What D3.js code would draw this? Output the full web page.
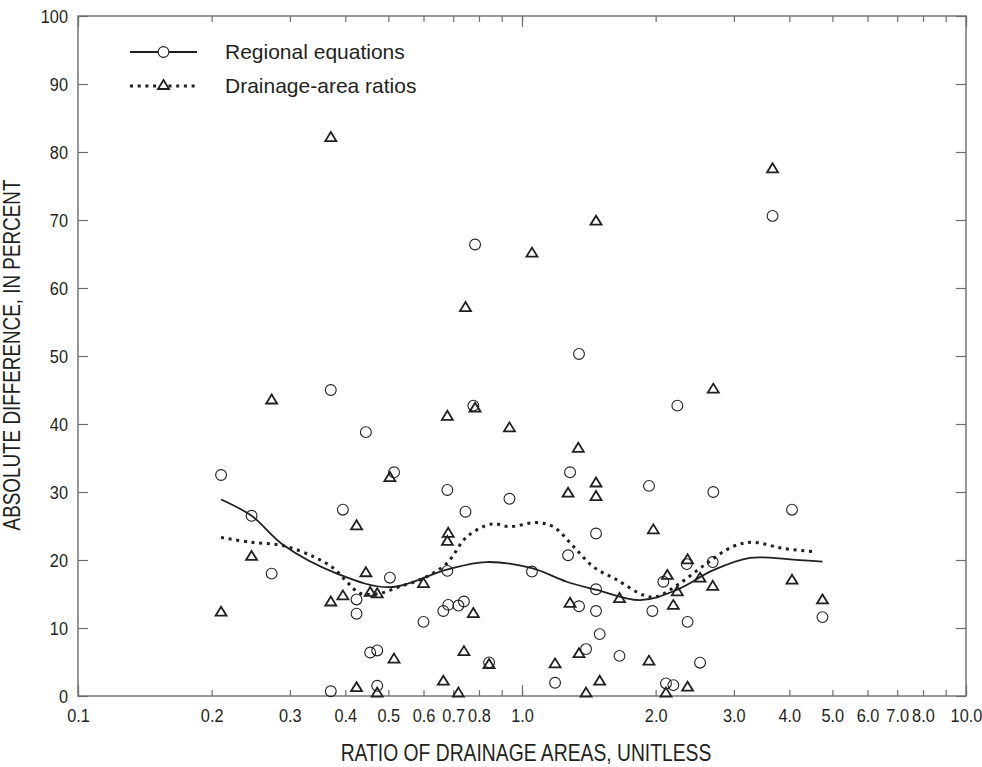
<!DOCTYPE html>
<html lang="en">
<head>
<meta charset="utf-8">
<title>Absolute difference vs ratio of drainage areas</title>
<script src="https://d3js.org/d3.v7.min.js"></script>
<style>
  body { margin: 0; background: #fff; }
  text { font-family: "Liberation Sans", Arial, sans-serif; fill: #231f20; }
</style>
</head>
<body>
<script>
// ratio of drainage areas for each site (same x for both methods)
var ratios = [0.21, 0.246, 0.273, 0.371, 0.371, 0.395, 0.424, 0.424, 0.445, 0.455,
              0.472, 0.472, 0.504, 0.515, 0.60, 0.665, 0.679, 0.679, 0.682, 0.719,
              0.740, 0.746, 0.777, 0.784, 0.843, 0.937, 1.053, 1.187, 1.27, 1.283,
              1.344, 1.344, 1.394, 1.468, 1.468, 1.468, 1.496, 1.658, 1.932, 1.966,
              2.081, 2.11, 2.192, 2.238, 2.35, 2.36, 2.518, 2.697, 2.689, 3.667,
              4.056, 4.751];
var regionalDiff = [32.5, 26.5, 18.0, 45.0, 0.7, 27.4, 14.2, 12.1, 38.8, 6.4,
                    6.7, 1.5, 17.4, 32.9, 10.9, 12.5, 30.3, 18.4, 13.4, 13.3,
                    13.9, 27.1, 42.7, 66.4, 4.95, 29.0, 18.3, 1.95, 20.7, 32.9,
                    50.3, 13.2, 6.9, 23.9, 15.7, 12.5, 9.1, 5.9, 30.9, 12.5,
                    16.8, 1.85, 1.6, 42.7, 19.4, 10.9, 4.9, 30.0, 19.7, 70.6,
                    27.4, 11.6];
var ratioRatios = [0.21, 0.246, 0.273, 0.371, 0.371, 0.395, 0.424, 0.424, 0.445, 0.455,
                   0.472, 0.472, 0.504, 0.515, 0.60, 0.665, 0.679, 0.682, 0.679, 0.719,
                   0.740, 0.746, 0.777, 0.784, 0.843, 0.937, 1.053, 1.187, 1.27, 1.283,
                   1.339, 1.344, 1.394, 1.468, 1.468, 1.468, 1.496, 1.658, 1.932, 1.976,
                   2.11, 2.125, 2.192, 2.238, 2.36, 2.36, 2.518, 2.689, 2.697, 3.667,
                   4.056, 4.751];
var drainageDiff = [12.4, 20.6, 43.6, 82.2, 13.9, 14.8, 25.1, 1.3, 18.2, 15.3,
                    15.1, 0.5, 32.2, 5.5, 16.6, 2.25, 41.2, 24.0, 22.8, 0.5,
                    6.6, 57.2, 12.2, 42.4, 4.7, 39.5, 65.2, 4.8, 29.9, 13.7,
                    36.5, 6.3, 0.5, 69.9, 31.4, 29.4, 2.25, 14.4, 5.2, 24.5,
                    0.5, 17.8, 13.4, 15.4, 20.1, 1.37, 17.4, 16.2, 45.2, 77.6,
                    17.1, 14.2];

// smoothed curves
var regionalCurveX = [0.21, 0.246, 0.29, 0.383, 0.504, 0.677, 0.83, 1.053, 1.261, 1.474,
                      1.845, 2.231, 2.697, 3.263, 4.014, 4.75];
var regionalCurveY = [28.9, 26.5, 22.2, 18.0, 16.0, 18.6, 19.7, 18.8, 16.8, 15.6,
                      14.1, 15.6, 18.5, 20.3, 20.1, 19.75];
var drainageCurveX = [0.21, 0.246, 0.29, 0.339, 0.376, 0.403, 0.432, 0.479, 0.531, 0.599,
                      0.677, 0.751, 0.855, 0.937, 1.079, 1.176, 1.305, 1.447, 1.634, 1.876,
                      2.011, 2.269, 2.606, 2.991, 3.319, 3.877, 4.6];
var drainageCurveY = [23.3, 22.6, 22.1, 20.5, 18.8, 16.8, 15.1, 15.1, 16.1, 17.3,
                      19.5, 23.4, 25.3, 24.9, 25.5, 24.9, 22.0, 19.0, 17.1, 14.85,
                      14.6, 16.6, 19.5, 22.0, 22.6, 21.7, 21.2];

var xTicks = [0.1, 0.2, 0.3, 0.4, 0.5, 0.6, 0.7, 0.8, 0.9, 1, 2, 3, 4, 5, 6, 7, 8, 9, 10];
var xMajor = [0.1, 1, 10];
var xLabels = [0.1, 0.2, 0.3, 0.4, 0.5, 0.6, 0.7, 0.8, 1, 2, 3, 4, 5, 6, 7, 8, 10];
var yTicks = [0, 10, 20, 30, 40, 50, 60, 70, 80, 90, 100];

var w = 982, h = 767;
var pLeft = 78, pRight = 966, pTop = 16, pBottom = 696;
var axisColor = "#6d6e71", ink = "#231f20";
var narrow = 0.86; // horizontal squeeze to mimic a condensed face

var x = d3.scaleLog().domain([0.1, 10]).range([pLeft, pRight]);
var y = d3.scaleLinear().domain([0, 100]).range([pBottom, pTop]);

var svg = d3.select("body").append("svg")
    .attr("width", w)
    .attr("height", h);

function strip(g) {
  g.select(".domain").remove();
  g.selectAll(".tick line").attr("stroke", axisColor).attr("stroke-width", 1.2);
}

// tick marks, all pointing inward
svg.append("g").attr("transform", "translate(0," + pBottom + ")")
   .call(d3.axisBottom(x).tickValues(xTicks).tickSize(-6).tickFormat("")).call(strip);
svg.append("g").attr("transform", "translate(0," + pBottom + ")")
   .call(d3.axisBottom(x).tickValues(xMajor).tickSize(-11).tickFormat("")).call(strip);
svg.append("g").attr("transform", "translate(0," + pTop + ")")
   .call(d3.axisTop(x).tickValues(xTicks).tickSize(-6).tickFormat("")).call(strip);
svg.append("g").attr("transform", "translate(0," + pTop + ")")
   .call(d3.axisTop(x).tickValues(xMajor).tickSize(-11).tickFormat("")).call(strip);
svg.append("g").attr("transform", "translate(" + pLeft + ",0)")
   .call(d3.axisLeft(y).tickValues(yTicks).tickSize(-10).tickFormat("")).call(strip);
svg.append("g").attr("transform", "translate(" + pRight + ",0)")
   .call(d3.axisRight(y).tickValues(yTicks).tickSize(-10).tickFormat("")).call(strip);

// tick labels
var xl = svg.append("g").attr("transform", "translate(0," + pBottom + ")")
   .call(d3.axisBottom(x).tickValues(xLabels).tickSize(0).tickPadding(13).tickFormat(d3.format(".1f")));
xl.select(".domain").remove();
xl.selectAll("text").style("font-size", "19px").attr("fill", ink)
   .attr("transform", "scale(" + narrow + ",1)");

var yl = svg.append("g").attr("transform", "translate(" + pLeft + ",0)")
   .call(d3.axisLeft(y).tickValues(yTicks).tickSize(0).tickPadding(10).tickFormat(d3.format("d")));
yl.select(".domain").remove();
yl.selectAll("text").style("font-size", "19px").attr("fill", ink)
   .attr("x", -10 / narrow)
   .attr("transform", "scale(" + narrow + ",1)");

// frame
svg.append("rect")
   .attr("x", pLeft).attr("y", pTop)
   .attr("width", pRight - pLeft).attr("height", pBottom - pTop)
   .attr("fill", "none").attr("stroke", axisColor).attr("stroke-width", 1.4);

// axis titles
svg.append("text")
   .attr("transform", "translate(526,761) scale(0.84,1)")
   .attr("text-anchor", "middle")
   .style("font-size", "23px")
   .text("RATIO OF DRAINAGE AREAS, UNITLESS");

svg.append("text")
   .attr("transform", "translate(20,355) rotate(-90) scale(0.82,1)")
   .attr("text-anchor", "middle")
   .style("font-size", "23px")
   .text("ABSOLUTE DIFFERENCE, IN PERCENT");

// curves
var line = d3.line()
   .x(function(d) { return x(d[0]); })
   .y(function(d) { return y(d[1]); })
   .curve(d3.curveCatmullRom.alpha(0.5));

svg.append("path")
   .datum(d3.zip(regionalCurveX, regionalCurveY))
   .attr("d", line)
   .attr("fill", "none").attr("stroke", ink).attr("stroke-width", 1.8);

svg.append("path")
   .datum(d3.zip(drainageCurveX, drainageCurveY))
   .attr("d", line)
   .attr("fill", "none").attr("stroke", ink).attr("stroke-width", 3)
   .attr("stroke-dasharray", "3,4.7");

// markers
var tri = "M0,-5L5.5,4L-5.5,4Z";

svg.append("g").selectAll("circle")
   .data(d3.zip(ratios, regionalDiff))
   .enter().append("circle")
   .attr("cx", function(d) { return x(d[0]); })
   .attr("cy", function(d) { return y(d[1]); })
   .attr("r", 5.4)
   .attr("fill", "none").attr("stroke", ink).attr("stroke-width", 1.1);

svg.append("g").selectAll("path")
   .data(d3.zip(ratioRatios, drainageDiff))
   .enter().append("path")
   .attr("d", tri)
   .attr("transform", function(d) { return "translate(" + x(d[0]) + "," + y(d[1]) + ")"; })
   .attr("fill", "none").attr("stroke", ink).attr("stroke-width", 1.8)
   .attr("stroke-linejoin", "miter");

// legend
var legend = svg.append("g");
legend.append("line").attr("x1", 130).attr("x2", 197).attr("y1", 52).attr("y2", 52)
   .attr("stroke", ink).attr("stroke-width", 1.8);
legend.append("circle").attr("cx", 163.5).attr("cy", 52).attr("r", 5.4)
   .attr("fill", "#fff").attr("stroke", ink).attr("stroke-width", 1.1);
legend.append("text").attr("x", 225).attr("y", 59)
   .style("font-size", "21px")
   .text("Regional equations");

legend.append("line").attr("x1", 130).attr("x2", 197).attr("y1", 86).attr("y2", 86)
   .attr("stroke", ink).attr("stroke-width", 3).attr("stroke-dasharray", "3,4.7");
legend.append("path").attr("d", tri)
   .attr("transform", "translate(163.5,85)")
   .attr("fill", "#fff").attr("stroke", ink).attr("stroke-width", 1.8);
legend.append("text").attr("x", 225).attr("y", 93)
   .style("font-size", "21px")
   .text("Drainage-area ratios");
</script>
</body>
</html>
